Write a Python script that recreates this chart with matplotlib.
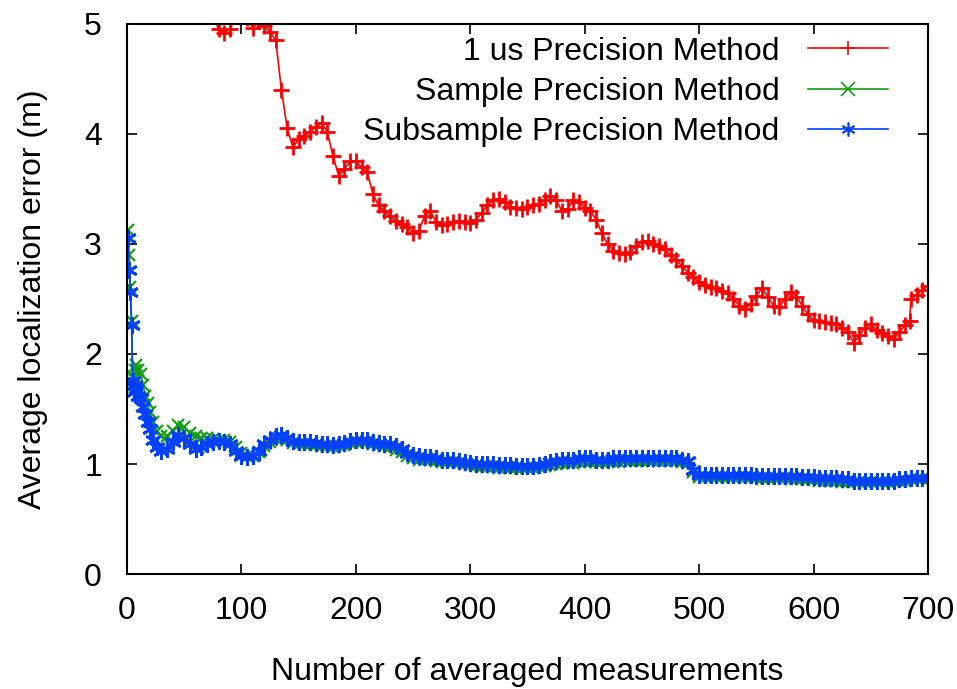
import numpy as np
import matplotlib.pyplot as plt

plt.rcParams['font.family'] = ['Liberation Sans', 'DejaVu Sans']

# 1 us precision method (values above 5 fall off the chart)
x_us = [75, 80, 85, 90, 95, 100, 105, 110, 115, 120, 125, 130, 135, 140, 145, 150, 155, 160, 165, 170,
        175, 180, 185, 190, 195, 200, 205, 210, 215, 220, 225, 230, 235, 240, 245, 250, 255, 260, 265, 270,
        275, 280, 285, 290, 295, 300, 305, 310, 315, 320, 325, 330, 335, 340, 345, 350, 355, 360, 365, 370,
        375, 380, 385, 390, 395, 400, 405, 410, 415, 420, 425, 430, 435, 440, 445, 450, 455, 460, 465, 470,
        475, 480, 485, 490, 495, 500, 505, 510, 515, 520, 525, 530, 535, 540, 545, 550, 555, 560, 565, 570,
        575, 580, 585, 590, 595, 600, 605, 610, 615, 620, 625, 630, 635, 640, 645, 650, 655, 660, 665, 670,
        675, 680, 684, 685, 690, 695, 700]
y_us = [5.1, 4.95, 4.92, 4.95, 5.08, 5.1, 5.05, 4.96, 5.03, 4.98, 4.93, 4.85, 4.4, 4.05, 3.88, 3.95, 3.98, 4.02, 4.06, 4.1,
        4.02, 3.8, 3.62, 3.68, 3.75, 3.75, 3.7, 3.65, 3.45, 3.35, 3.3, 3.25, 3.21, 3.18, 3.15, 3.1, 3.12, 3.25, 3.3, 3.2,
        3.17, 3.18, 3.2, 3.21, 3.2, 3.19, 3.22, 3.28, 3.35, 3.4, 3.41, 3.38, 3.34, 3.33, 3.32, 3.34, 3.35, 3.36, 3.4, 3.44,
        3.4, 3.3, 3.32, 3.4, 3.38, 3.33, 3.3, 3.22, 3.1, 3.0, 2.94, 2.92, 2.91, 2.93, 2.98, 3.02, 3.03, 3.0, 2.98, 2.95,
        2.9, 2.85, 2.8, 2.74, 2.7, 2.65, 2.63, 2.61, 2.6, 2.57, 2.55, 2.5, 2.44, 2.41, 2.45, 2.53, 2.6, 2.52, 2.44, 2.43,
        2.5, 2.56, 2.52, 2.44, 2.36, 2.31, 2.3, 2.29, 2.28, 2.27, 2.24, 2.2, 2.1, 2.17, 2.24, 2.27, 2.22, 2.19, 2.16, 2.14,
        2.2, 2.26, 2.3, 2.5, 2.54, 2.58, 2.62]

x_fine = [1, 2, 3, 4, 5, 6, 7, 8, 10, 12, 14, 16, 18, 20, 23, 26, 30, 35, 40, 45, 50, 55, 60, 65, 70, 75, 80, 85, 90, 95,
          100, 105, 110, 115, 120, 125, 130, 135, 140, 145, 150, 155, 160, 165, 170, 175, 180, 185, 190, 195,
          200, 205, 210, 215, 220, 225, 230, 235, 240, 245, 250, 255, 260, 265, 270, 275, 280, 285, 290, 295,
          300, 305, 310, 315, 320, 325, 330, 335, 340, 345, 350, 355, 360, 365, 370, 375, 380, 385, 390, 395,
          400, 405, 410, 415, 420, 425, 430, 435, 440, 445, 450, 455, 460, 465, 470, 475, 480, 485, 490, 495,
          500, 505, 510, 515, 520, 525, 530, 535, 540, 545, 550, 555, 560, 565, 570, 575, 580, 585, 590, 595,
          600, 605, 610, 615, 620, 625, 630, 635, 640, 645, 650, 655, 660, 665, 670, 675, 680, 685, 690, 695, 700]

y_sample = [3.13, 2.9, 2.61, 2.3, 1.8, 1.78, 1.85, 1.9, 1.85, 1.82, 1.72, 1.62, 1.55, 1.47, 1.38, 1.3, 1.25, 1.25, 1.3, 1.35,
            1.34, 1.28, 1.25, 1.24, 1.24, 1.23, 1.22, 1.22, 1.2, 1.15,
            1.1, 1.07, 1.07, 1.11, 1.16, 1.2, 1.23, 1.24, 1.22, 1.19, 1.18, 1.18, 1.18, 1.17, 1.16, 1.16, 1.15, 1.16, 1.17, 1.19,
            1.2, 1.2, 1.2, 1.18, 1.17, 1.16, 1.15, 1.13, 1.11, 1.07, 1.05, 1.04, 1.04, 1.04, 1.03, 1.02, 1.02, 1.02, 1.01, 1.0,
            0.99, 0.98, 0.97, 0.97, 0.97, 0.96, 0.96, 0.96, 0.96, 0.96, 0.96, 0.96, 0.97, 0.98, 0.99, 1.0, 1.01, 1.01, 1.01, 1.02,
            1.02, 1.02, 1.02, 1.02, 1.02, 1.02, 1.02, 1.03, 1.03, 1.03, 1.03, 1.03, 1.03, 1.03, 1.03, 1.03, 1.03, 1.02, 1.01, 0.93,
            0.88, 0.88, 0.88, 0.88, 0.88, 0.88, 0.88, 0.88, 0.88, 0.88, 0.87, 0.87, 0.87, 0.87, 0.87, 0.87, 0.86, 0.86, 0.86, 0.86,
            0.86, 0.85, 0.85, 0.85, 0.85, 0.84, 0.84, 0.84, 0.84, 0.84, 0.84, 0.84, 0.84, 0.84, 0.84, 0.85, 0.85, 0.86, 0.86, 0.86, 0.86]

y_subsample = [3.05, 2.76, 2.56, 2.26, 1.75, 1.65, 1.72, 1.68, 1.62, 1.6, 1.52, 1.45, 1.38, 1.32, 1.22, 1.15, 1.12, 1.14, 1.2, 1.26,
               1.24, 1.18, 1.14, 1.15, 1.18, 1.2, 1.21, 1.2, 1.18, 1.12,
               1.07, 1.06, 1.07, 1.12, 1.18, 1.22, 1.25, 1.26, 1.24, 1.21, 1.2, 1.2, 1.2, 1.19, 1.18, 1.18, 1.17, 1.18, 1.19, 1.21,
               1.22, 1.22, 1.22, 1.2, 1.19, 1.18, 1.18, 1.16, 1.14, 1.1, 1.08, 1.07, 1.06, 1.06, 1.05, 1.04, 1.04, 1.04, 1.03, 1.02,
               1.01, 1.0, 1.0, 1.0, 1.0, 0.99, 0.99, 0.99, 0.98, 0.98, 0.98, 0.98, 0.99, 1.0, 1.02, 1.03, 1.04, 1.04, 1.04, 1.05,
               1.05, 1.05, 1.04, 1.04, 1.04, 1.05, 1.05, 1.05, 1.05, 1.05, 1.05, 1.05, 1.05, 1.05, 1.05, 1.05, 1.05, 1.04, 1.03, 0.95,
               0.9, 0.9, 0.9, 0.9, 0.9, 0.9, 0.9, 0.9, 0.9, 0.9, 0.89, 0.89, 0.89, 0.89, 0.89, 0.89, 0.89, 0.89, 0.88, 0.88,
               0.88, 0.87, 0.87, 0.87, 0.87, 0.86, 0.86, 0.85, 0.85, 0.85, 0.85, 0.85, 0.85, 0.85, 0.85, 0.86, 0.86, 0.87, 0.87, 0.87, 0.87]

fig = plt.figure(figsize=(9.57, 6.89), dpi=100)
ax = fig.add_axes([0.1327, 0.1669, 0.837, 0.7983])

ax.plot(x_us, y_us, color='#ff0000', lw=1.2, marker='+', ms=12, mew=2, label='1 us Precision Method')
ax.plot(x_fine, y_sample, color='#12a012', lw=1.2, marker='x', ms=9, mew=1.6, label='Sample Precision Method')
ax.plot(x_fine, y_subsample, color='#0040ff', lw=1.2, marker=(6, 2, 0), ms=12, mew=2, label='Subsample Precision Method')

ax.set_xlim(0, 700)
ax.set_ylim(0, 5)
ax.set_xticks(range(0, 701, 100))
ax.set_yticks(range(0, 6))
ax.tick_params(direction='in', length=7, width=1.2, top=True, right=True, labelsize=23)
ax.tick_params(axis='x', pad=16)
ax.tick_params(axis='y', pad=18)
for s in ax.spines.values():
    s.set_linewidth(1.5)

ax.set_xlabel('Number of averaged measurements', fontsize=23, labelpad=22)
ax.set_ylabel('Average localization error (m)', fontsize=23, labelpad=26)

leg = ax.legend(loc='upper right', frameon=False, fontsize=23, markerfirst=False, numpoints=1,
                handlelength=2.5, handletextpad=0.9, labelspacing=0.32, borderaxespad=0.2,
                bbox_to_anchor=(0.974, 1.012))
for h in leg.legend_handles:
    h.set_markersize(10)
    h.set_markeredgewidth(1.2)
    h.set_linewidth(1.2)

fig.savefig('out.png', dpi=100)
